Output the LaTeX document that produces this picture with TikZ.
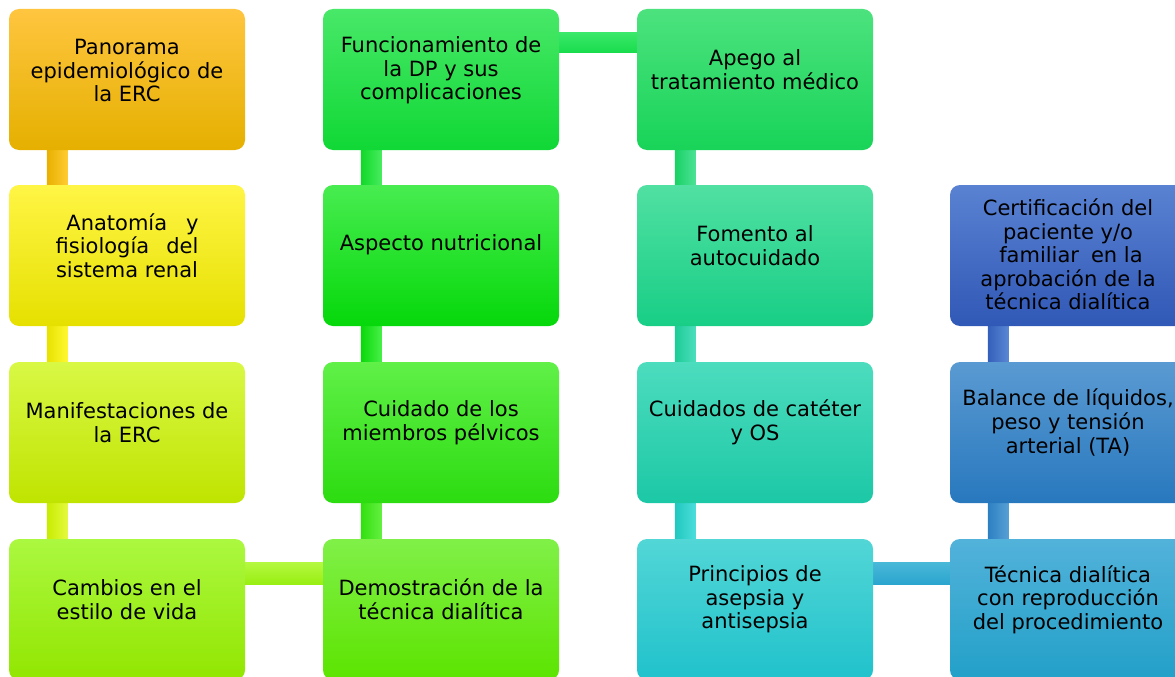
\documentclass[tikz,border=0pt]{standalone}
\usepackage{fontspec}
\setmainfont{DejaVu Sans}
\usetikzlibrary{calc,backgrounds}
% box colours: top / middle / bottom
\definecolor{aT}{HTML}{FFC53F}\definecolor{aM}{HTML}{F8BC05}\definecolor{aB}{HTML}{E5B000}
\definecolor{bT}{HTML}{FFF545}\definecolor{bM}{HTML}{FFF500}\definecolor{bB}{HTML}{E6E000}
\definecolor{cT}{HTML}{D8F845}\definecolor{cM}{HTML}{CCF600}\definecolor{cB}{HTML}{C0E400}
\definecolor{dT}{HTML}{ABF840}\definecolor{dM}{HTML}{9EF40A}\definecolor{dB}{HTML}{92E600}
\definecolor{eT}{HTML}{48E868}\definecolor{eM}{HTML}{1EE045}\definecolor{eB}{HTML}{10D835}
\definecolor{fT}{HTML}{48EC50}\definecolor{fM}{HTML}{14E018}\definecolor{fB}{HTML}{05D80A}
\definecolor{gT}{HTML}{60F048}\definecolor{gM}{HTML}{3CE820}\definecolor{gB}{HTML}{2CDC10}
\definecolor{hT}{HTML}{80F048}\definecolor{hM}{HTML}{6AEC20}\definecolor{hB}{HTML}{5CE400}
\definecolor{iT}{HTML}{4CE27E}\definecolor{iM}{HTML}{22DC62}\definecolor{iB}{HTML}{18D458}
\definecolor{jT}{HTML}{50E0A2}\definecolor{jM}{HTML}{22D890}\definecolor{jB}{HTML}{18CE86}
\definecolor{kT}{HTML}{4CDCBE}\definecolor{kM}{HTML}{26D4B0}\definecolor{kB}{HTML}{1CC8A6}
\definecolor{lT}{HTML}{52D6D6}\definecolor{lM}{HTML}{2AD0D4}\definecolor{lB}{HTML}{20C2CC}
\definecolor{mT}{HTML}{5A82D2}\definecolor{mM}{HTML}{3C68C0}\definecolor{mB}{HTML}{3058B6}
\definecolor{nT}{HTML}{5A9AD2}\definecolor{nM}{HTML}{3888C8}\definecolor{nB}{HTML}{2878BE}
\definecolor{oT}{HTML}{52B2DA}\definecolor{oM}{HTML}{30A8D2}\definecolor{oB}{HTML}{22A0C8}
% connector colours
\definecolor{v1L}{HTML}{E8B000}\definecolor{v1R}{HTML}{FFCC32}
\definecolor{v2L}{HTML}{E8E200}\definecolor{v2R}{HTML}{FFF832}
\definecolor{v3L}{HTML}{C8EC00}\definecolor{v3R}{HTML}{E4FA40}
\definecolor{v5L}{HTML}{10D828}\definecolor{v5R}{HTML}{48EC60}
\definecolor{v6L}{HTML}{0AD80A}\definecolor{v6R}{HTML}{48F048}
\definecolor{v7L}{HTML}{32E010}\definecolor{v7R}{HTML}{64F040}
\definecolor{v9L}{HTML}{18D264}\definecolor{v9R}{HTML}{4CE296}
\definecolor{v10L}{HTML}{1CCC96}\definecolor{v10R}{HTML}{4CDEBE}
\definecolor{v11L}{HTML}{20C8BE}\definecolor{v11R}{HTML}{4CDEDC}
\definecolor{v13L}{HTML}{3460BA}\definecolor{v13R}{HTML}{5A88D4}
\definecolor{v14L}{HTML}{2C80C2}\definecolor{v14R}{HTML}{58A0D6}
\definecolor{h1T}{HTML}{B4F840}\definecolor{h1B}{HTML}{98EE10}
\definecolor{h2T}{HTML}{3AE86A}\definecolor{h2B}{HTML}{18DC4C}
\definecolor{h3T}{HTML}{48B8D8}\definecolor{h3B}{HTML}{2AA4CE}
\tikzset{
  box/.style={rounded corners=10pt, minimum width=236pt, minimum height=141pt, inner sep=0pt, draw=none},
  txt/.style={align=center, inner sep=0pt, text=black, font=\fontsize{21}{23.6}\selectfont},
}
\newcommand\mybox[4]{\node[box, top color=#4T, middle color=#4M, bottom color=#4B] (#1) at (#2+118,#3+70.5) {};}
\newcommand\vcon[3]{\shade[left color=#3L, right color=#3R] ($(#1.south west)+(38,-2)$) rectangle ($(#2.north west)+(59,2)$);}
\newcommand\hcon[5]{\shade[top color=#3T, bottom color=#3B] ($(#1.north east)+(-2,#4)$) rectangle ($(#2.north west)+(2,#5)$);}
\begin{document}
\begin{tikzpicture}[x=1pt,y=-1pt]
\useasboundingbox (0,0) rectangle (1175,677);
\clip (0,0) rectangle (1175,677);
% column 1
\mybox{b1}{9}{9}{a}
\mybox{b2}{9}{185}{b}
\mybox{b3}{9}{362}{c}
\mybox{b4}{9}{539}{d}
% column 2
\mybox{b5}{323}{9}{e}
\mybox{b6}{323}{185}{f}
\mybox{b7}{323}{362}{g}
\mybox{b8}{323}{539}{h}
% column 3
\mybox{b9}{637}{9}{i}
\mybox{b10}{637}{185}{j}
\mybox{b11}{637}{362}{k}
\mybox{b12}{637}{539}{l}
% column 4
\mybox{b13}{950}{185}{m}
\mybox{b14}{950}{362}{n}
\mybox{b15}{950}{539}{o}
% texts
\node[txt] (t1) at ($(b1.center)+(0,-9)$) {Panorama\\epidemiológico de\\la ERC};
\node[txt] (t2) at ($(b2.center)+(0,-10)$) {\hspace*{11pt}Anatomía\hspace{19pt}y\\fisiología\hspace{17pt}del\\sistema renal};
\node[txt] (t3) at ($(b3.center)+(0,-10)$) {Manifestaciones de\\la ERC};
\node[txt] (t4) at ($(b4.center)+(0,-10)$) {Cambios en el\\estilo de vida};
\node[txt] (t5) at ($(b5.center)+(0,-9)$) {Funcionamiento de\\la DP y sus\\complicaciones};
\node[txt] (t6) at ($(b6.center)+(0,-11)$) {Aspecto nutricional};
\node[txt] (t7) at ($(b7.center)+(0,-10)$) {Cuidado de los\\miembros pélvicos};
\node[txt] (t8) at ($(b8.center)+(0,-10)$) {Demostración de la\\técnica dialítica};
\node[txt] (t9) at ($(b9.center)+(0,-10)$) {Apego al\\tratamiento médico};
\node[txt] (t10) at ($(b10.center)+(0,-10)$) {Fomento al\\autocuidado};
\node[txt] (t11) at ($(b11.center)+(0,-10)$) {Cuidados de catéter\\y OS};
\node[txt] (t12) at ($(b12.center)+(0,-10)$) {Principios de\\asepsia y\\antisepsia};
\node[txt] (t13) at ($(b13.center)+(0,-1)$) {Certificación del\\paciente y/o\\\hspace*{6pt}familiar\hspace{12pt}en la\\aprobación de la\\técnica dialítica};
\node[txt] (t14) at ($(b14.center)+(0,-10)$) {Balance de líquidos,\\peso y tensión\\arterial (TA)};
\node[txt] (t15) at ($(b15.center)+(0,-10)$) {Técnica dialítica\\con reproducción\\del procedimiento};
% connectors
\begin{scope}[on background layer]
\vcon{b1}{b2}{v1}
\vcon{b2}{b3}{v2}
\vcon{b3}{b4}{v3}
\vcon{b5}{b6}{v5}
\vcon{b6}{b7}{v6}
\vcon{b7}{b8}{v7}
\vcon{b9}{b10}{v9}
\vcon{b10}{b11}{v10}
\vcon{b11}{b12}{v11}
\vcon{b13}{b14}{v13}
\vcon{b14}{b15}{v14}
\hcon{b4}{b8}{h1}{24}{46}
\hcon{b5}{b9}{h2}{24}{44}
\hcon{b12}{b15}{h3}{24}{46}
\end{scope}
\end{tikzpicture}
\end{document}
